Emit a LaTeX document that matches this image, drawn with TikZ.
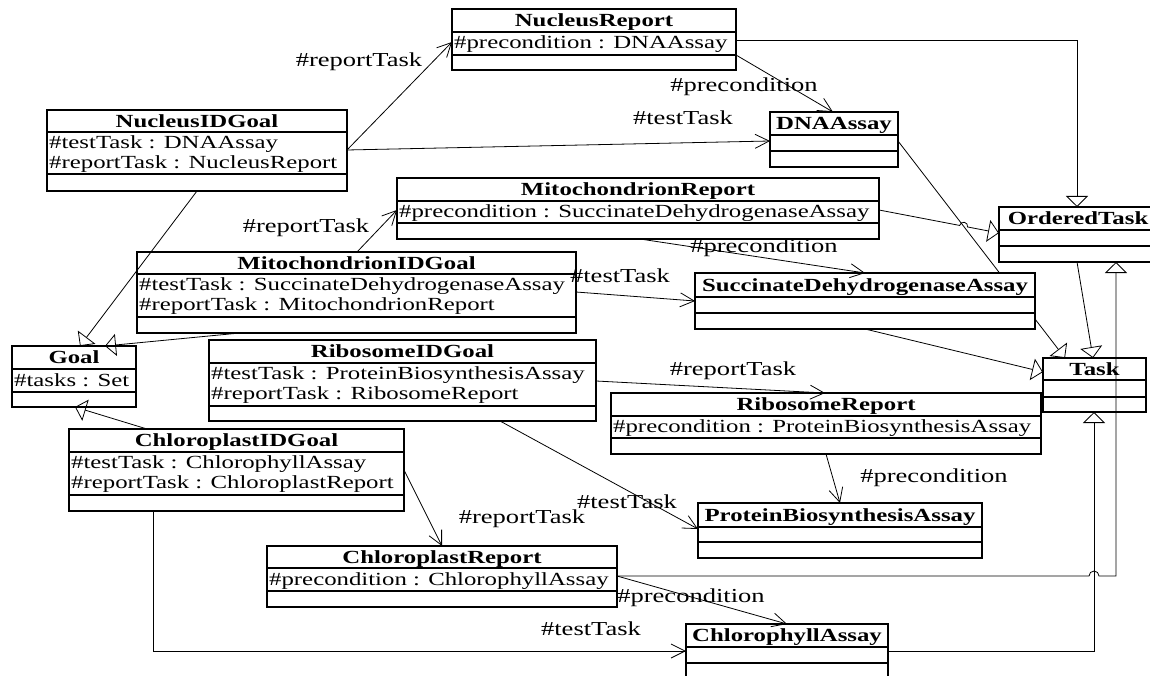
\documentclass[tikz,border=0pt]{standalone}
\usepackage{fontspec}
\setmainfont{Liberation Serif}[FakeStretch=1.34]
\usetikzlibrary{arrows.meta,calc,backgrounds}

\tikzset{
 clsbox/.style={draw, line width=1.2pt, fill=white, inner sep=0pt, outer sep=0pt},
 clsline/.style={line width=1.2pt},
 titletext/.style={font=\fontsize{18.5}{21}\selectfont\bfseries, inner sep=0pt, text height=12.3pt, text depth=0pt},
 attrtext/.style={font=\fontsize{18.5}{21}\selectfont, inner sep=0pt, anchor=base west},
 lbl/.style={font=\fontsize{19.8}{22}\selectfont, inner sep=0pt},
 assoc/.style={line width=0.8pt, -{Straight Barb[length=14pt,width=14pt]}},
 gen/.style={line width=0.8pt, -{Triangle[open,length=11pt,width=22pt]}},
}

% #1 name, #2 x, #3 y, #4 w, #5 h1, #6 h2, #7 h3, #8 title
\newcommand{\umlbox}[8]{%
  \node[clsbox, minimum width=#4pt, minimum height={#5pt+#6pt+#7pt}, anchor=north west] (#1) at (#2,#3) {};
  \draw[clsline] ([yshift=-#5pt]#1.north west) -- ([yshift=-#5pt]#1.north east);
  \draw[clsline] ([yshift=-#5pt-#6pt]#1.north west) -- ([yshift=-#5pt-#6pt]#1.north east);
  \node[titletext] at ([yshift=-#5pt/2]#1.north) {#8};
}

\begin{document}
\begin{tikzpicture}[x=1pt,y=-1pt]
\useasboundingbox (0,0) rectangle (1150,676);

% classes
\umlbox{nr}{452}{9}{284}{23}{23}{15}{NucleusReport}
\node[attrtext] at ($(nr.north west)+(2,40)$) {\#precondition : DNAAssay};

\umlbox{nig}{47}{110}{300}{22}{42}{17}{NucleusIDGoal}
\node[attrtext] at ($(nig.north west)+(2,38.5)$) {\#testTask : DNAAssay};
\node[attrtext] at ($(nig.north west)+(2,58.5)$) {\#reportTask : NucleusReport};

\umlbox{dna}{770}{112}{128}{23}{16}{16}{DNAAssay}

\umlbox{mr}{397}{178}{482}{23}{22}{16}{MitochondrionReport}
\node[attrtext] at ($(mr.north west)+(2,39.5)$) {\#precondition : SuccinateDehydrogenaseAssay};

\umlbox{ot}{999}{207}{158}{23}{16}{16}{OrderedTask}

\umlbox{mig}{137}{252}{439}{22}{43}{16}{MitochondrionIDGoal}
\node[attrtext] at ($(mig.north west)+(2,38.5)$) {\#testTask : SuccinateDehydrogenaseAssay};
\node[attrtext] at ($(mig.north west)+(2,58.5)$) {\#reportTask : MitochondrionReport};

\umlbox{sda}{695}{273}{340}{24}{16}{16}{SuccinateDehydrogenaseAssay}

\umlbox{goal}{12}{346}{124}{23}{23}{15}{Goal}
\node[attrtext] at ($(goal.north west)+(2,40)$) {\#tasks : Set};

\umlbox{rig}{209}{340}{387}{23}{43}{15}{RibosomeIDGoal}
\node[attrtext] at ($(rig.north west)+(2,39.5)$) {\#testTask : ProteinBiosynthesisAssay};
\node[attrtext] at ($(rig.north west)+(2,59.5)$) {\#reportTask : RibosomeReport};

\umlbox{task}{1043}{358}{103}{22}{17}{15}{Task}

\umlbox{rr}{611}{393}{430}{23}{22}{16}{RibosomeReport}
\node[attrtext] at ($(rr.north west)+(2,39.5)$) {\#precondition : ProteinBiosynthesisAssay};

\umlbox{cig}{69}{429}{335}{23}{43}{16}{ChloroplastIDGoal}
\node[attrtext] at ($(cig.north west)+(2,39)$) {\#testTask : ChlorophyllAssay};
\node[attrtext] at ($(cig.north west)+(2,59)$) {\#reportTask : ChloroplastReport};

\umlbox{cr}{267}{546}{350}{22}{23}{16}{ChloroplastReport}
\node[attrtext] at ($(cr.north west)+(2,39)$) {\#precondition : ChlorophyllAssay};

\umlbox{pba}{698}{503}{284}{24}{15}{16}{ProteinBiosynthesisAssay}

\umlbox{ca}{686}{624}{202}{23}{16}{16}{ChlorophyllAssay}

% connector passing under SuccinateDehydrogenaseAssay
\begin{scope}[on background layer]
\draw[gen] ($(dna.north west)+(128,29)$) -- ($(task.north west)+(22,0)$);
\end{scope}

% associations
\draw[assoc] ($(nig.north west)+(300,40)$) -- ($(nr.north west)+(0,33)$);
\draw[assoc] ($(nig.north west)+(300,40)$) -- ($(dna.north west)+(0,29)$);
\draw[assoc] ($(nr.north west)+(284,46)$) -- ($(dna.north west)+(63,0)$);
\draw[assoc] ($(mig.north west)+(220,0)$) -- ($(mr.north west)+(0,32)$);
\draw[assoc] ($(mig.north west)+(439,40)$) -- ($(sda.north west)+(0,28)$);
\draw[assoc] ($(mr.north west)+(243,61)$) -- ($(sda.north west)+(170,0)$);
\draw[assoc] ($(rig.north west)+(387,41)$) -- ($(rr.north west)+(214,0)$);
\draw[assoc] ($(rig.north west)+(291,81)$) -- ($(pba.north west)+(0,26)$);
\draw[assoc] ($(rr.north west)+(215,61)$) -- ($(pba.north west)+(142,0)$);
\draw[assoc] ($(cig.north west)+(335,41)$) -- ($(cr.north west)+(175,0)$);
\draw[assoc] ($(cr.north west)+(350,30)$) -- ($(ca.north west)+(101,0)$);
\draw[assoc] ($(cig.north west)+(84,82)$) |- ($(ca.north west)+(0,27)$);

% generalizations
\draw[gen] ($(nr.north west)+(284,31)$) -| ($(ot.north west)+(78,0)$);
\draw[gen] ($(mr.north west)+(482,32)$) -- ($(mr.north west)+(562.7,47.45)$)
  arc[start angle=169.15,end angle=-10.85,radius=4pt] -- ($(ot.north west)+(0,26)$);
\draw[gen] ($(mig.north west)+(103,81)$) -- ($(goal.north west)+(93,0)$);
\draw[gen] ($(nig.north west)+(150,81)$) -- ($(goal.north west)+(68,0)$);
\draw[gen] ($(cig.north west)+(78,0)$) -- ($(goal.north west)+(63,61)$);
\draw[gen] ($(ot.north west)+(78,55)$) -- ($(task.north west)+(50,0)$);
\draw[gen] ($(sda.north west)+(170,56)$) -- ($(task.north west)+(0,14)$);
\draw[gen] ($(ca.north west)+(202,27)$) -| ($(task.north west)+(51,54)$);
\draw[gen] ($(cr.north west)+(350,30)$) -- ($(task.north west)+(46,218)$)
  arc[start angle=180,end angle=0,radius=5pt] -| ($(ot.north west)+(117,55)$);

% role labels
\node[lbl] (l1) at (359,62) {\#reportTask};
\node[lbl] (l2) at (683,118) {\#testTask};
\node[lbl] (l3) at (744,87) {\#precondition};
\node[lbl] (l6) at (306,228) {\#reportTask};
\node[lbl] (l7) at (620,276) {\#testTask};
\node[lbl] (l8) at (764,248) {\#precondition};
\node[lbl] (l15) at (733,371) {\#reportTask};
\node[lbl] (l16) at (627,502) {\#testTask};
\node[lbl] (l17) at (934,478) {\#precondition};
\node[lbl] (l18) at (522,519) {\#reportTask};
\node[lbl] (l19) at (691,598) {\#precondition};
\node[lbl] (l22) at (591,629) {\#testTask};
\end{tikzpicture}
\end{document}
